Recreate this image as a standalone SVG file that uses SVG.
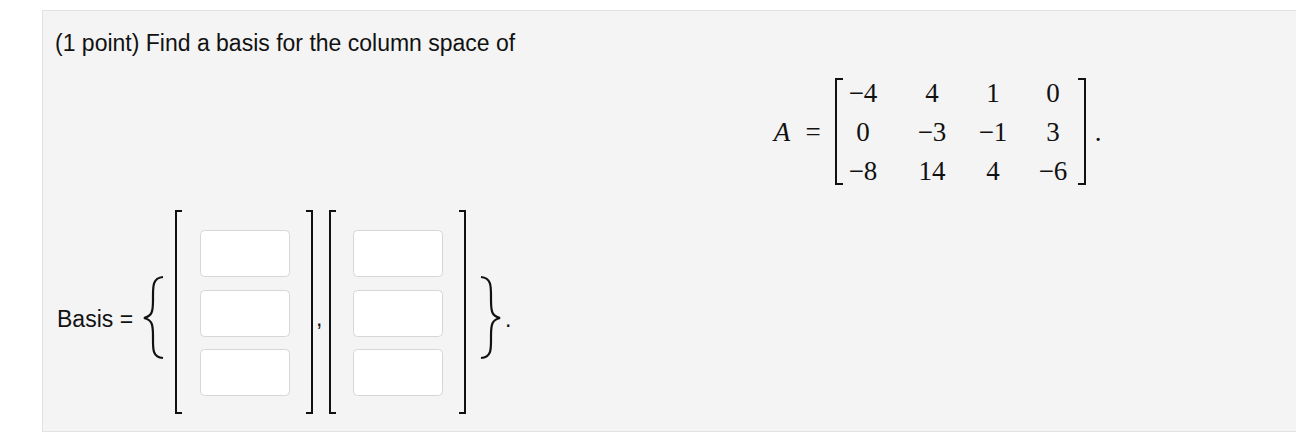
<svg xmlns="http://www.w3.org/2000/svg" width="1296" height="442" viewBox="0 0 1296 442">
<style>
.s{font-family:"Liberation Sans",Arial,sans-serif;font-size:23px;fill:#111}
.m{font-family:"Liberation Serif","Times New Roman",serif;font-size:27px;fill:#111;text-anchor:middle}
.br{fill:none;stroke:#111;stroke-width:2}
.box{fill:#fff;stroke:#d6d6d6;stroke-width:1}
</style>
<rect x="0" y="0" width="1296" height="442" fill="#fff"/>
<rect x="42.5" y="10.5" width="1270" height="421" fill="#f4f4f4" stroke="#e2e2e2"/>
<g id="title"><text class="s" x="55" y="51">(1 point) Find a basis for the column space of</text></g>
<g id="matrix">
<text class="m" x="782" y="141" text-anchor="start" font-style="italic">A</text>
<text class="m" x="813" y="141">=</text>
<path class="br" d="M843,79 H836 V184 H843 M1078,79 H1085 V184 H1078"/>
<text class="m" x="863" y="102">−4</text><text class="m" x="932" y="102">4</text><text class="m" x="993" y="102">1</text><text class="m" x="1053" y="102">0</text>
<text class="m" x="863" y="141">0</text><text class="m" x="932" y="141">−3</text><text class="m" x="993" y="141">−1</text><text class="m" x="1053" y="141">3</text>
<text class="m" x="863" y="180">−8</text><text class="m" x="932" y="180">14</text><text class="m" x="993" y="180">4</text><text class="m" x="1053" y="180">−6</text>
<text class="m" x="1098" y="141">.</text>
</g>
<g id="basis">
<text class="s" x="57" y="327">Basis =</text>
<path d="M163,277 C152,278 153,287 153,300 C153,312 152,316 144,318 C152,320 153,324 153,336 C153,349 152,357 163,358" fill="none" stroke="#111" stroke-width="2.2"/>
<path class="br" d="M182,211 H176 V413 H182 M306,211 H312 V413 H306"/>
<rect class="box" x="200.5" y="230.5" width="89" height="46" rx="4"/>
<rect class="box" x="200.5" y="290.5" width="89" height="46" rx="4"/>
<rect class="box" x="200.5" y="349.5" width="89" height="46" rx="4"/>
<text class="s" x="316" y="326">,</text>
<path class="br" d="M336,211 H330 V413 H336 M459,211 H465 V413 H459"/>
<rect class="box" x="353.5" y="230.5" width="89" height="46" rx="4"/>
<rect class="box" x="353.5" y="290.5" width="89" height="46" rx="4"/>
<rect class="box" x="353.5" y="349.5" width="89" height="46" rx="4"/>
<path d="M481,277 C492,278 491,287 491,300 C491,312 492,316 500,318 C492,320 491,324 491,336 C491,349 492,357 481,358" fill="none" stroke="#111" stroke-width="2.2"/>
<text class="s" x="505" y="327">.</text>
</g>
</svg>
